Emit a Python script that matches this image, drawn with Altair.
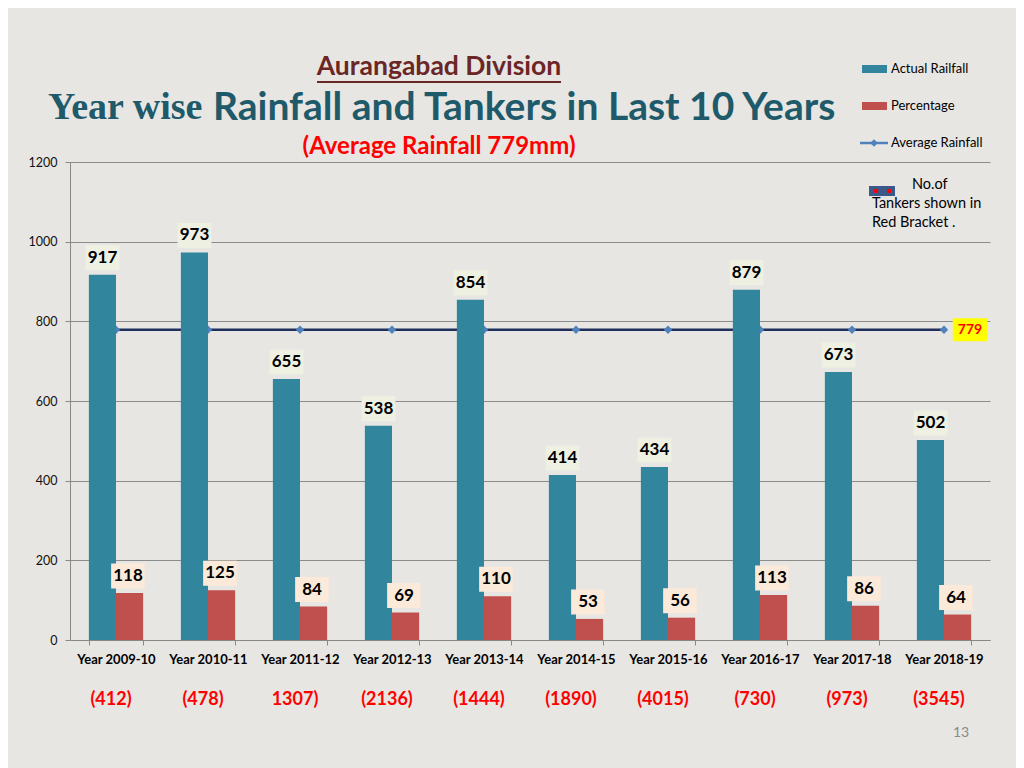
import altair as alt
import pandas as pd

years = ["Year 2009-10", "Year 2010-11", "Year 2011-12", "Year 2012-13", "Year 2013-14",
         "Year 2014-15", "Year 2015-16", "Year 2016-17", "Year 2017-18", "Year 2018-19"]
rainfall = [917, 973, 655, 538, 854, 414, 434, 879, 673, 502]
percentage = [118, 125, 84, 69, 110, 53, 56, 113, 86, 64]
tankers = ["(412)", "(478)", "1307)", "(2136)", "(1444)", "(1890)", "(4015)", "(730)", "(973)", "(3545)"]
average = 779
series_names = ["Actual Railfall", "Percentage"]

BLUE = "#31859c"
RED = "#c0504d"
W, H = 920, 478

bars_df = pd.DataFrame(
    [{"year": y, "series": series_names[0], "value": v} for y, v in zip(years, rainfall)]
    + [{"year": y, "series": series_names[1], "value": v} for y, v in zip(years, percentage)]
)
rain_df = pd.DataFrame({"year": years, "value": rainfall})
pct_df = pd.DataFrame({"year": years, "value": percentage})
avg_df = pd.DataFrame({"year": years, "value": [average] * len(years)})
last_df = avg_df.tail(1)
tank_df = pd.DataFrame({"year": years, "label": tankers, "value": [0] * len(years)})
one = pd.DataFrame({"k": [0]})

xscale = alt.Scale(domain=years, paddingInner=0.41, paddingOuter=0.205)
yscale = alt.Scale(domain=[0, 1200], nice=False)

X = alt.X("year:N", scale=xscale, sort=years,
          axis=alt.Axis(title=None, labelAngle=0, labelFont="Lato", labelFontWeight="bold",
                        labelFontSize=13, labelColor="#000000", tickBand="extent",
                        domainColor="#888888", tickColor="#888888", tickSize=5,
                        labelPadding=8, grid=False))
Y = alt.Y("value:Q", scale=yscale,
          axis=alt.Axis(title=None, values=[0, 200, 400, 600, 800, 1000, 1200], format="d",
                        labelFont="Lato", labelFontSize=12.5, labelColor="#111111",
                        gridColor="#8c8c8c", gridWidth=1, domainColor="#888888",
                        tickColor="#888888", tickSize=5, labelPadding=8))

# average rainfall line (behind bars)
avg_line = alt.Chart(avg_df).mark_line(color="#1f2f5c", strokeWidth=2.5).encode(x=X, y=Y)
avg_pts = alt.Chart(avg_df).mark_point(shape="diamond", filled=True, size=70, color="#4f81bd",
                                       opacity=1).encode(x=X, y=Y)

bars = alt.Chart(bars_df).mark_bar().encode(
    x=X, y=Y,
    xOffset=alt.XOffset("series:N", sort=series_names, scale=alt.Scale(domain=series_names)),
    color=alt.Color("series:N", scale=alt.Scale(domain=series_names, range=[BLUE, RED]), legend=None),
)

BOX = "M-1.35,-1H1.35V1H-1.35Z"
rain_box = alt.Chart(rain_df).mark_point(shape=BOX, filled=True, size=25 * 25, color="#eef0e2",
                                         opacity=1, xOffset=-13.5, yOffset=-17).encode(x=X, y=Y)
rain_txt = alt.Chart(rain_df).mark_text(font="Lato", fontWeight="bold", fontSize=17, color="#000000",
                                        dx=-13.5, dy=-17, baseline="middle").encode(
    x=X, y=Y, text=alt.Text("value:Q"))
pct_box = alt.Chart(pct_df).mark_point(shape=BOX, filled=True, size=25 * 25, color="#fbe9da",
                                       opacity=1, xOffset=12, yOffset=-17).encode(x=X, y=Y)
pct_txt = alt.Chart(pct_df).mark_text(font="Lato", fontWeight="bold", fontSize=17, color="#000000",
                                      dx=12, dy=-17, baseline="middle").encode(
    x=X, y=Y, text=alt.Text("value:Q"))

avg_box = alt.Chart(last_df).mark_point(shape="M-1.5,-1H1.5V1H-1.5Z", filled=True, size=23 * 23,
                                        color="#ffff00", opacity=1, xOffset=26).encode(x=X, y=Y)
avg_txt = alt.Chart(last_df).mark_text(font="Lato", fontWeight="bold", fontSize=14, color="#ff0000",
                                       dx=26, baseline="middle").encode(
    x=X, y=Y, text=alt.Text("value:Q"))

tank_txt = alt.Chart(tank_df).mark_text(font="Lato", fontWeight="bold", fontSize=18, color="#ff0000",
                                        dx=-5, dy=60, baseline="middle").encode(
    x=X, y=Y, text="label:N")


def txt(s, x, y, size, color="#000000", weight="normal", font="Lato", align="left"):
    return alt.Chart(one).mark_text(text=s, font=font, fontSize=size, color=color, fontWeight=weight,
                                    align=align, baseline="middle").encode(
        x=alt.value(x), y=alt.value(y))


def rect(x, x2, y, y2, color):
    return alt.Chart(one).mark_rect(color=color).encode(
        x=alt.value(x), x2=alt.value(x2), y=alt.value(y), y2=alt.value(y2))


title1 = txt("Aurangabad Division", 369, -95, 26.5, color="#6b2626", weight="bold", align="center")
underline = alt.Chart(one).mark_rule(color="#6b2626", strokeWidth=2).encode(
    x=alt.value(247), x2=alt.value(491), y=alt.value(-80))
title2a = txt("Year wise", -22, -54, 38, color="#1f5a6a", weight="bold", font="Liberation Serif")
title2b = txt("Rainfall and Tankers in Last 10 Years", 143, -54, 39, color="#1f5a6a", weight="bold")
title3 = txt("(Average Rainfall 779mm)", 369, -15, 24, color="#ff0000", weight="bold", align="center")

leg_r1 = rect(792, 817, -97, -89, BLUE)
leg_t1 = txt("Actual Railfall", 821, -93, 13)
leg_r2 = rect(792, 817, -60, -52, RED)
leg_t2 = txt("Percentage", 821, -56, 13)
leg_line = alt.Chart(one).mark_rule(color="#4f81bd", strokeWidth=2.5).encode(
    x=alt.value(790), x2=alt.value(818), y=alt.value(-19))
leg_dia = alt.Chart(one).mark_point(shape="diamond", filled=True, size=60, color="#4f81bd",
                                    opacity=1).encode(x=alt.value(804), y=alt.value(-19))
leg_t3 = txt("Average Rainfall", 821, -19, 13)

icon = rect(799, 825, 24, 34, "#3a5a8c")
icon_dots = alt.Chart(pd.DataFrame({"px": [806, 819]})).mark_point(
    shape="circle", filled=True, size=22, color="#ff0000", opacity=1).encode(
    x=alt.X("px:Q", scale=None), y=alt.value(29))
note1 = txt("No.of", 842, 23, 14.5)
note2 = txt("Tankers shown in", 802, 42, 14.5)
note3 = txt("Red Bracket .", 802, 61, 14.5)

page = txt("13", 883, 571, 14, color="#8a8a8a")

chart = alt.layer(
    avg_line, avg_pts, bars, rain_box, rain_txt, pct_box, pct_txt, avg_box, avg_txt, tank_txt,
    title1, underline, title2a, title2b, title3,
    leg_r1, leg_t1, leg_r2, leg_t2, leg_line, leg_dia, leg_t3,
    icon, icon_dots, note1, note2, note3, page,
).properties(
    width=W, height=H,
    autosize=alt.AutoSizeParams(type="none"),
    padding={"left": 62, "top": 154, "right": 26, "bottom": 130},
    background="#e7e6e3",
).configure_view(stroke=None)

chart.save("out.html", embed_options={"renderer": "svg", "actions": False})
